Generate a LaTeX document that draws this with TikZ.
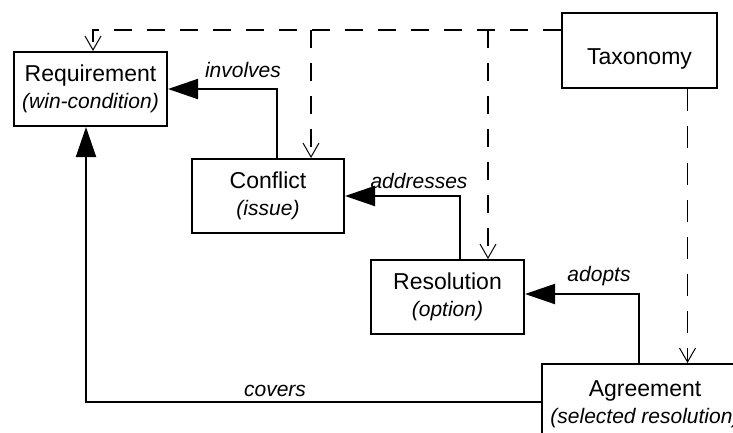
\documentclass[tikz,border=0pt]{standalone}
\usepackage{fontspec}
\setmainfont{Liberation Sans}
\usetikzlibrary{arrows.meta}
\tikzset{
  box/.style={draw, line width=2pt, inner sep=0pt, align=center,
    font=\fontsize{23}{27}\selectfont},
  rel/.style={line width=2pt, -{Triangle[length=30pt,width=20pt]}},
  dep/.style={line width=2pt, dash pattern=on 18pt off 15pt,
    -{Straight Barb[length=14pt,width=16pt,line width=1pt]}},
  depthin/.style={line width=1pt, dash pattern=on 22pt off 15pt,
    -{Straight Barb[length=14pt,width=16pt,line width=1pt]}},
  lbl/.style={font=\fontsize{21}{25}\selectfont\itshape, inner sep=0pt},
}
\newcommand{\itl}[1]{{\fontsize{21}{25}\selectfont\itshape #1}}
\begin{document}
\begin{tikzpicture}[x=1pt,y=-1pt]
\useasboundingbox (0,0) rectangle (733,432);
\clip (0,0) rectangle (733,432);
\node[box, minimum width=153pt, minimum height=74pt] (req) at (90.5,89)
  {Requirement\\\itl{(win-condition)}};
\node[box, minimum width=152pt, minimum height=74pt] (conf) at (268,196)
  {Conflict\\\itl{(issue)}};
\node[box, minimum width=153pt, minimum height=74pt] (res) at (447.5,297)
  {Resolution\\\itl{(option)}};
\node[box, minimum width=155pt, minimum height=75pt, text depth=0pt,
  text height=27pt] (tax) at (639.5,50.5) {Taxonomy};
\node[box, minimum width=206pt, minimum height=80pt] (agr) at (645,404)
  {Agreement\\\itl{(selected resolution)}};
% solid relations
\draw[rel] ([xshift=9pt]conf.north) |- (req.east);
\draw[rel] ([xshift=12.5pt]res.north) |- (conf.east);
\draw[rel] ([xshift=-6pt]agr.north) |- ([yshift=3pt]res.east);
\draw[rel] ([yshift=2pt]agr.west) -| ([xshift=-4.5pt]req.south);
% labels
\node[lbl] (linv) at (243,70) {involves};
\node[lbl] (ladd) at (419,181) {addresses};
\node[lbl] (ladp) at (599,276) {adopts};
\node[lbl] (lcov) at (275,391) {covers};
% dashed dependencies from taxonomy
\coordinate (top) at ([yshift=20.5pt]tax.west);
\draw[dep] (top) -| ([xshift=2.5pt]req.north);
\draw[dep] ([xshift=43pt]conf.north |- top) -- ([xshift=43pt]conf.north);
\draw[dep] ([xshift=40.5pt]res.north |- top) -- ([xshift=40.5pt]res.north);
\draw[depthin] ([xshift=48pt]tax.south) -- ([xshift=48pt]tax.south |- agr.north);
\end{tikzpicture}
\end{document}
